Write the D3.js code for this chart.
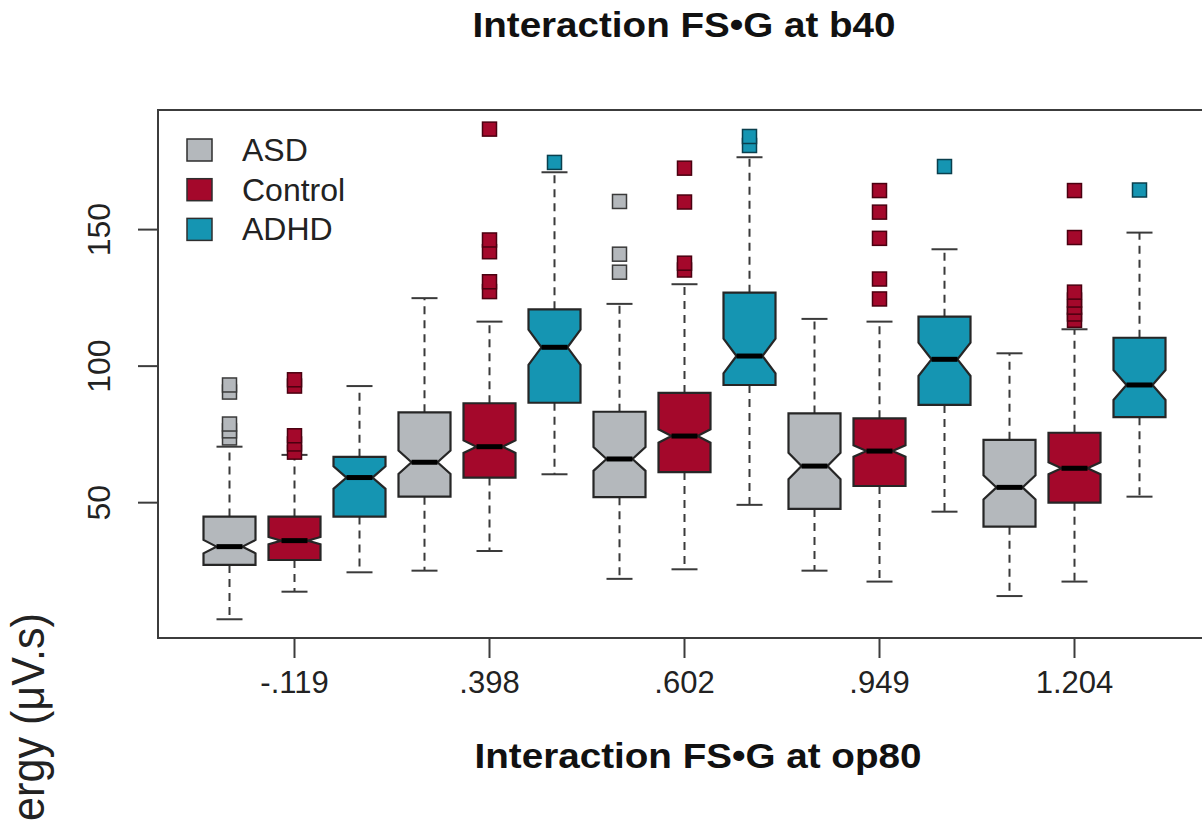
<!DOCTYPE html>
<html><head><meta charset="utf-8">
<script src="https://cdn.jsdelivr.net/npm/d3@7"></script>
<style>html,body{margin:0;padding:0;background:#fff;overflow:hidden}svg{display:block}</style>
</head><body><svg id="c" width="1202" height="825"></svg>
<script>
// ---- data ----
const categories = ["-.119", ".398", ".602", ".949", "1.204"];
const groups = ["ASD", "Control", "ADHD"];
const groupColors = ["#b4b8bc", "#a4082b", "#1595b2"];
const outlineColors = ["#3a3a3a", "#4a0010", "#0a3f4d"];
const groupN = [130, 350, 70]; // approx. sample sizes used for notch width
// [lowerWhisker, Q1, median, Q3, upperWhisker] per category
const asdBoxes = [[7.3,27.2,33.9,44.9,70.5],[25.1,52.2,64.8,83.1,124.9],[22.1,52.0,66.0,83.3,122.8],[25.1,47.7,63.4,82.7,117.3],[15.8,41.2,55.6,73.0,104.7]];
const controlBoxes = [[17.4,29.0,36.1,44.9,67.5],[32.3,59.2,70.5,86.4,116.3],[25.6,61.2,74.4,90.2,130.0],[21.1,56.1,68.9,80.9,116.3],[21.1,50.0,62.6,75.6,113.5]];
const adhdBoxes = [[24.5,44.9,59.2,66.8,92.7],[60.4,86.6,106.9,120.8,171.0],[49.2,93.1,103.7,126.9,176.5],[46.7,85.8,102.5,118.1,142.8],[52.2,81.3,93.1,110.4,148.9]];
const asdOutliers = [[73.7,76.3,78.8,90.5,93.1],[],[134.4,141.0,160.3],[],[]];
const controlOutliers = [[68.5,71.5,74.5,92.7,95.0],[127.3,130.9,141.9,146.2,186.8],[135.2,137.7,160.1,172.5],[124.6,131.9,146.8,156.4,164.3],[116.8,119.1,121.6,124.2,127.1,147.1,164.3]];
const adhdOutliers = [[],[174.6],[180.8,184.1],[173.1],[164.5]];
const yTicks = [50, 100, 150];
const titleText = "Interaction FS•G at b40";
const xTitleText = "Interaction FS•G at op80";
const yTitleText = "ergy (μV.s)"; // visible part of the (cropped) y-axis label

// ---- layout ----
const boxesByGroup = [asdBoxes, controlBoxes, adhdBoxes];
const outByGroup = [asdOutliers, controlOutliers, adhdOutliers];
const svg = d3.select("#c");
const font = "'Liberation Sans', Arial, Helvetica, sans-serif";
const nPos = categories.length * groups.length;
const x = d3.scaleLinear().domain([0.5 - 0.6, nPos + 0.5 + 0.6]).range([158, 158 + 65 * (nPos + 1.2)]);
const y = d3.scaleLinear().domain([0.44, 193.8]).range([638, 110]);
const halfW = (x(1) - x(0)) * 0.8 / 2;

const boxes = [];
categories.forEach((c, ci) => {
  groups.forEach((g, gi) => {
    const s = boxesByGroup[gi][ci];
    boxes.push({ci, gi, pos: ci * 3 + gi + 1, lo: s[0], q1: s[1], med: s[2], q3: s[3], hi: s[4], out: outByGroup[gi][ci]});
  });
});

// plot frame
svg.append("rect").attr("x", x.range()[0]).attr("y", 110).attr("width", x.range()[1] - x.range()[0]).attr("height", 528)
  .attr("fill", "none").attr("stroke", "#3c3c3c").attr("stroke-width", 2);

const gB = svg.append("g");
boxes.forEach(b => {
  const cx = x(b.pos);
  const notch = 1.58 * (b.q3 - b.q1) / Math.sqrt(groupN[b.gi]);
  const nlo = b.med - notch, nhi = b.med + notch;
  gB.append("line").attr("x1", cx).attr("x2", cx).attr("y1", y(b.q3)).attr("y2", y(b.hi))
    .attr("stroke", "#3a3a3a").attr("stroke-width", 2).attr("stroke-dasharray", "8,6");
  gB.append("line").attr("x1", cx).attr("x2", cx).attr("y1", y(b.q1)).attr("y2", y(b.lo))
    .attr("stroke", "#3a3a3a").attr("stroke-width", 2).attr("stroke-dasharray", "8,6");
  [b.hi, b.lo].forEach(v => gB.append("line").attr("x1", cx - halfW / 2).attr("x2", cx + halfW / 2)
    .attr("y1", y(v)).attr("y2", y(v)).attr("stroke", "#3a3a3a").attr("stroke-width", 2));
  const pts = [
    [cx - halfW, y(b.q1)], [cx - halfW, y(nlo)], [cx - halfW / 2, y(b.med)], [cx - halfW, y(nhi)], [cx - halfW, y(b.q3)],
    [cx + halfW, y(b.q3)], [cx + halfW, y(nhi)], [cx + halfW / 2, y(b.med)], [cx + halfW, y(nlo)], [cx + halfW, y(b.q1)]
  ];
  gB.append("path").attr("d", d3.line()(pts) + "Z").attr("fill", groupColors[b.gi])
    .attr("stroke", "#262626").attr("stroke-width", 2.2).attr("stroke-linejoin", "miter");
  gB.append("line").attr("x1", cx - halfW / 2).attr("x2", cx + halfW / 2).attr("y1", y(b.med)).attr("y2", y(b.med))
    .attr("stroke", "#000").attr("stroke-width", 5);
  b.out.forEach(v => gB.append("rect").attr("x", cx - 7).attr("y", y(v) - 7).attr("width", 14).attr("height", 14)
    .attr("fill", groupColors[b.gi]).attr("stroke", outlineColors[b.gi]).attr("stroke-width", 1.5));
});

// y axis
const gy = svg.append("g");
yTicks.forEach(t => {
  gy.append("line").attr("x1", 138).attr("x2", 158).attr("y1", y(t)).attr("y2", y(t)).attr("stroke", "#3c3c3c").attr("stroke-width", 2);
  gy.append("text").attr("transform", `translate(110,${y(t)}) rotate(-90)`).attr("text-anchor", "middle")
    .attr("font-family", font).attr("font-size", 32).attr("fill", "#222").text(t);
});
// x axis
const gx = svg.append("g");
categories.forEach((c, ci) => {
  const px = x(ci * 3 + 2);
  gx.append("line").attr("x1", px).attr("x2", px).attr("y1", 638).attr("y2", 658).attr("stroke", "#3c3c3c").attr("stroke-width", 2);
  gx.append("text").attr("x", px).attr("y", 693).attr("text-anchor", "middle")
    .attr("font-family", font).attr("font-size", 31).attr("fill", "#222").text(c);
});

// titles
svg.append("text").attr("x", 684).attr("y", 37).attr("text-anchor", "middle").attr("font-family", font)
  .attr("font-weight", "bold").attr("font-size", 35).attr("textLength", 423).attr("lengthAdjust", "spacingAndGlyphs")
  .attr("fill", "#111").text(titleText);
svg.append("text").attr("x", 698).attr("y", 768).attr("text-anchor", "middle").attr("font-family", font)
  .attr("font-weight", "bold").attr("font-size", 35).attr("textLength", 447).attr("lengthAdjust", "spacingAndGlyphs")
  .attr("fill", "#111").text(xTitleText);
svg.append("text").attr("transform", "translate(44,613) rotate(-90)").attr("text-anchor", "end").attr("font-family", font)
  .attr("font-size", 46).attr("textLength", 208).attr("lengthAdjust", "spacingAndGlyphs")
  .attr("fill", "#222").text(yTitleText);

// legend
const gl = svg.append("g");
groups.forEach((g, gi) => {
  const cy = 150 + gi * 39.7;
  gl.append("rect").attr("x", 187).attr("y", cy - 11).attr("width", 25).attr("height", 22)
    .attr("fill", groupColors[gi]).attr("stroke", "#2e2e2e").attr("stroke-width", 1.5);
  gl.append("text").attr("x", 242).attr("y", cy + 11).attr("font-family", font).attr("font-size", 32)
    .attr("fill", "#222").text(g);
});
</script></body></html>
